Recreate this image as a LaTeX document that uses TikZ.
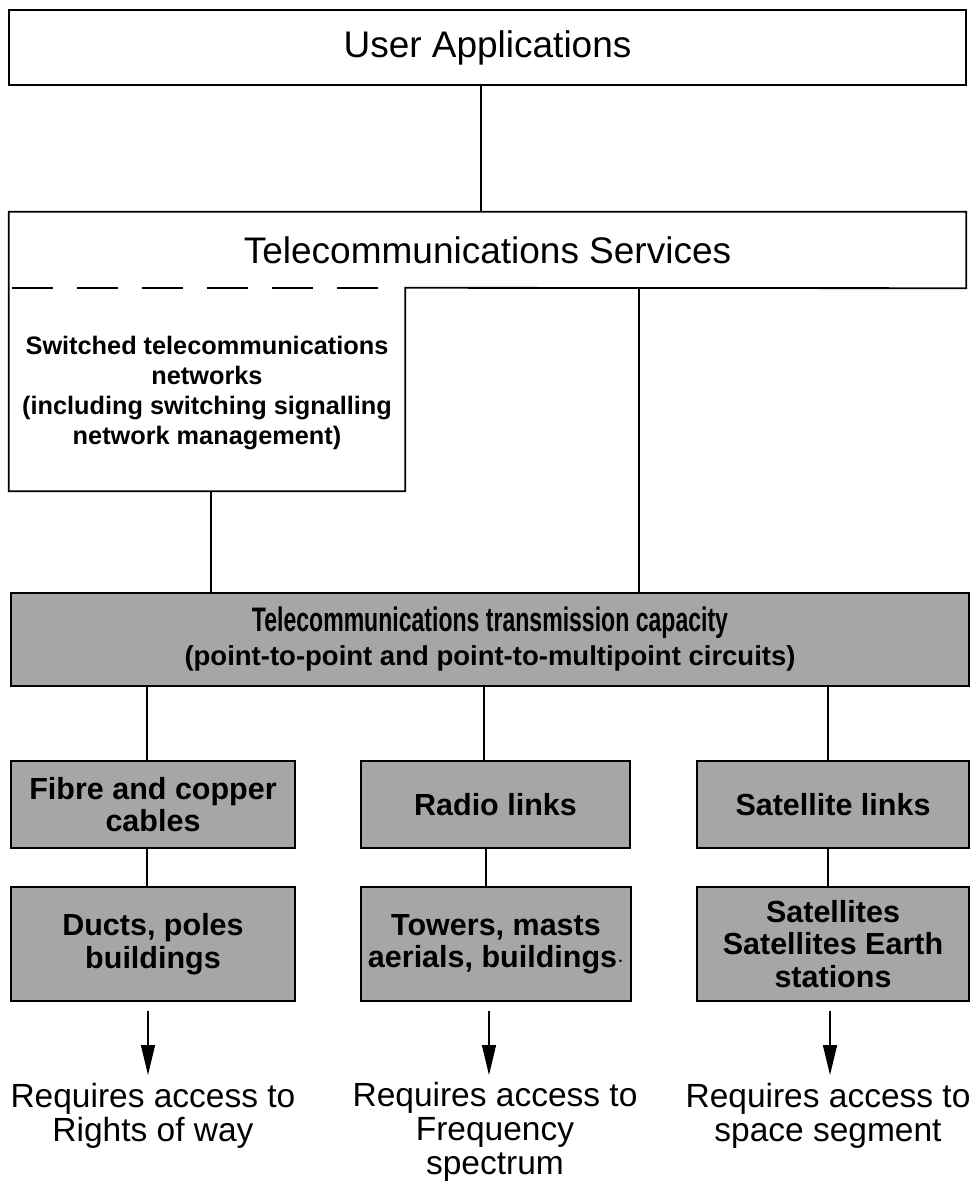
\documentclass[tikz,border=0pt]{standalone}
\usepackage{fontspec}
\setmainfont{Liberation Sans}
\usetikzlibrary{arrows.meta}
\begin{document}
\begin{tikzpicture}[x=1pt,y=-1pt,
  boxline/.style={line width=1.8pt, line join=miter},
  plainbox/.style={draw, boxline, inner sep=0pt, align=center},
  shadebox/.style={plainbox, fill=black!35},
  conn/.style={line width=1.3pt},
  arr/.style={conn, -{Triangle[length=30pt,width=14pt]}},
  bigtxt/.style={font=\fontsize{37}{44}\selectfont},
  swtxt/.style={font=\bfseries\fontsize{25.3}{30}\selectfont},
  shtxt/.style={font=\bfseries\fontsize{30.5}{32.5}\selectfont},
  tctxt/.style={font=\bfseries\fontsize{27.5}{34}\selectfont},
  reqtxt/.style={font=\fontsize{33.5}{34}\selectfont, inner sep=0pt, align=center}
]
\useasboundingbox (0,0) rectangle (976,1181);

% top box
\node[plainbox, bigtxt, minimum width=957pt, minimum height=75pt] (ua) at (487.5,47.5) {User Applications};

% services + switched networks (outline drawn as one path)
\node[bigtxt, inner sep=0pt, minimum width=957pt, minimum height=76pt] (ts) at (487.5,250) {Telecommunications Services};
\node[inner sep=0pt, minimum width=396pt, minimum height=203pt] (sw) at (207,389.5) {};
\node[swtxt, inner sep=0pt, align=center] (swt) at (207,393)
  {Switched telecommunications\\networks\\(including switching signalling\\network management)};
\draw[boxline] (ts.north west) -- (ts.north east) -- (ts.south east) -- (sw.north east)
  -- (sw.south east) -- (sw.south west) -- cycle;
\draw[line width=1.8pt, dash pattern=on 41pt off 24pt] ([xshift=3pt]sw.north west) -- ([xshift=-23pt]sw.north east);

% transmission capacity
\node[shadebox, tctxt, minimum width=958pt, minimum height=93pt] (tc) at (490,639.5)
  {\scalebox{0.678}[1]{\fontsize{34}{34}\selectfont Telecommunications transmission capacity}\\
   (point-to-point and point-to-multipoint circuits)};

% row 3
\node[shadebox, shtxt, minimum width=284pt, minimum height=87pt] (fc) at (153,804.5) {Fibre and copper\\cables};
\node[shadebox, shtxt, minimum width=269pt, minimum height=87pt] (rl) at (495.5,804.5) {Radio links};
\node[shadebox, shtxt, minimum width=272pt, minimum height=87pt] (sl) at (833,804.5) {Satellite links};

% row 4
\node[shadebox, shtxt, minimum width=284pt, minimum height=114pt] (dp) at (153,944) {Ducts, poles\\buildings};
\node[shadebox, shtxt, minimum width=270pt, minimum height=114pt] (tm) at (496,944) {Towers, masts\\aerials, buildings$\cdot$};
\node[shadebox, shtxt, minimum width=272pt, minimum height=114pt] (se) at (833,944) {Satellites\\Satellites Earth\\stations};

% bottom labels
\node[reqtxt, anchor=north] (q1) at (153,1083) {Requires access to\\Rights of way};
\node[reqtxt, anchor=north] (q2) at (495,1082) {Requires access to\\Frequency\\spectrum};
\node[reqtxt, anchor=north] (q3) at (828,1083) {Requires access to\\space segment};

% x positions of connectors
\coordinate (x0) at (481,0);
\coordinate (x1) at (211,0);
\coordinate (x2) at (639,0);
\coordinate (a1) at (147,0);
\coordinate (a2) at (484,0);
\coordinate (a3) at (828,0);
\coordinate (b2) at (486,0);
\coordinate (c1) at (148,0);
\coordinate (c2) at (489,0);
\coordinate (c3) at (830,0);

% connectors
\draw[conn] (ua.south -| x0) -- (ts.north -| x0);
\draw[conn] (sw.south -| x1) -- (tc.north -| x1);
\draw[conn] (ts.south -| x2) -- (tc.north -| x2);
\draw[conn] (tc.south -| a1) -- (fc.north -| a1);
\draw[conn] (tc.south -| a2) -- (rl.north -| a2);
\draw[conn] (tc.south -| a3) -- (sl.north -| a3);
\draw[conn] (fc.south -| a1) -- (dp.north -| a1);
\draw[conn] (rl.south -| b2) -- (tm.north -| b2);
\draw[conn] (sl.south -| a3) -- (se.north -| a3);
\draw[arr] ([yshift=-9pt]dp.south -| c1) -- ([yshift=8pt]q1.north -| c1);
\draw[arr] ([yshift=-9pt]tm.south -| c2) -- ([yshift=7pt]q2.north -| c2);
\draw[arr] ([yshift=-9pt]se.south -| c3) -- ([yshift=8pt]q3.north -| c3);
\end{tikzpicture}
\end{document}
